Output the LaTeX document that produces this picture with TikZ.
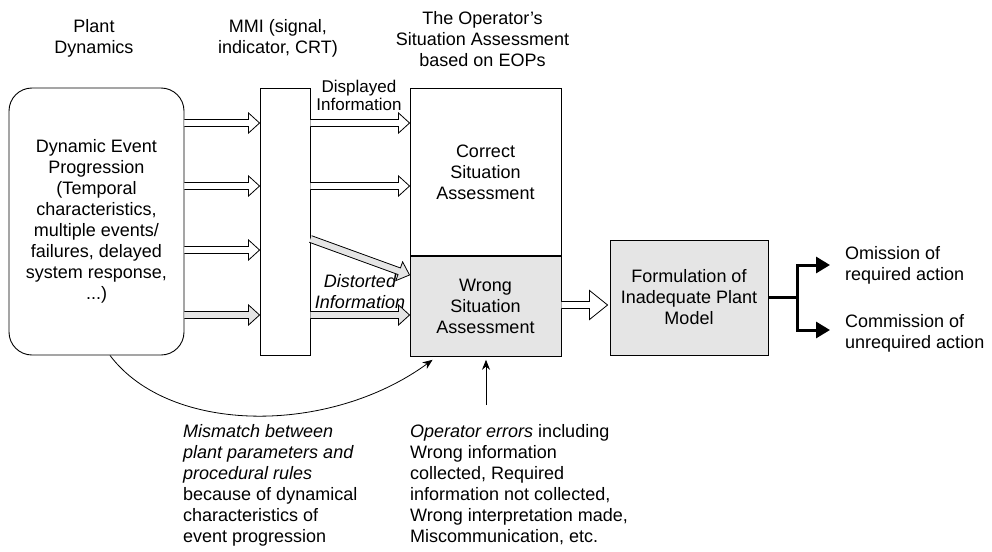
\documentclass[tikz,border=0pt]{standalone}
\usepackage{fontspec}
\setmainfont{Liberation Sans}
\usetikzlibrary{calc,arrows.meta}
\tikzset{
  every node/.style={font=\fontsize{18}{21}\selectfont, inner sep=0pt},
  box/.style={draw, line width=0.9pt, inner sep=0pt, align=center},
  grayfill/.style={fill=black!10},
  lbl/.style={align=center, anchor=north},
  note/.style={align=left, anchor=north west},
  thinarrow/.style={line width=0.8pt, -{Stealth[length=10pt,width=8pt]}},
  outarrow/.style={line width=3pt, -{Triangle[length=14pt,width=16pt]}},
}
% #1 fill, #2 head length, #3 head half width, #4 from, #5 to
\newcommand\hollowarrow[5]{%
  \coordinate (ha-H) at ($(#5)!#2!(#4)$);
  \draw[line width=0.8pt, fill=#1, line join=miter]
    ($(#4)!3.5pt!90:(#5)$) -- ($(ha-H)!3.5pt!90:(#5)$) -- ($(ha-H)!#3!90:(#5)$) -- (#5)
    -- ($(ha-H)!#3!-90:(#5)$) -- ($(ha-H)!3.5pt!-90:(#5)$) -- ($(#4)!3.5pt!-90:(#5)$);
}
\begin{document}
\begin{tikzpicture}[x=1pt,y=-1pt]
\useasboundingbox (0,0) rectangle (992,551);

% top labels
\node[lbl] (tplant) at (94,19) {Plant\\Dynamics};
\node[lbl] (tmmi) at (278,19) {MMI (signal,\\indicator, CRT)};
\node[lbl] (top) at (482.5,11) {The Operator’s\\Situation Assessment\\based on EOPs};

% boxes
\node[box, rounded corners=23pt, minimum width=175pt, minimum height=267pt] (plant) at (96.5,221.5)
  {Dynamic Event\\Progression\\(Temporal\\characteristics,\\multiple events/\\failures, delayed\\system response,\\...)};
\node[box, minimum width=50pt, minimum height=267pt] (mmi) at (285,221.5) {};
\node[box, minimum width=151pt, minimum height=167pt, anchor=north] (correct) at (485.5,88)
  {Correct\\Situation\\Assessment};
\node[box, grayfill, minimum width=151pt, minimum height=100pt, anchor=north] (wrong) at (correct.south)
  {Wrong\\Situation\\Assessment};
\node[box, grayfill, minimum width=158pt, minimum height=115pt] (form) at (689,297.5)
  {Formulation of\\Inadequate Plant\\Model};

% arrow labels
\node[lbl, font=\fontsize{17}{18}\selectfont] (disp) at (359,80) {Displayed\\Information};
\node[lbl, font=\fontsize{18}{21}\selectfont\itshape] (dist) at (360,274) {Distorted\\Information};

% levels
\path (0,123) coordinate (r1) (0,186) coordinate (r2) (0,250) coordinate (r3) (0,315) coordinate (r4)
      (0,239) coordinate (rs1) (0,275) coordinate (rs2) (0,305) coordinate (rw);

% plant -> mmi
\foreach \r/\f in {r1/white, r2/white, r3/white, r4/black!10} {
  \coordinate (ps) at (plant.east |- \r);
  \coordinate (pe) at (mmi.west |- \r);
  \hollowarrow{\f}{11pt}{10pt}{ps}{pe}
}
% mmi -> situation
\foreach \r in {r1, r2} {
  \coordinate (ms) at (mmi.east |- \r);
  \coordinate (me) at (correct.west |- \r);
  \hollowarrow{white}{11pt}{10pt}{ms}{me}
}
\coordinate (ms4) at (mmi.east |- r4);
\coordinate (me4) at (wrong.west |- r4);
\hollowarrow{black!10}{11pt}{10pt}{ms4}{me4}
\coordinate (msl) at (mmi.east |- rs1);
\coordinate (mel) at (wrong.west |- rs2);
\hollowarrow{black!10}{11pt}{10pt}{msl}{mel}

% wrong -> formulation
\coordinate (ws) at (wrong.east |- rw);
\coordinate (we) at ($(form.west |- rw)+(-2,0)$);
\hollowarrow{white}{18pt}{14.5pt}{ws}{we}

% outputs
\coordinate (jn) at ($(form.east)+(29,0)$);
\coordinate (om) at (830,265);
\coordinate (com) at (830,330);
\draw[line width=3pt] (form.east) -- (jn);
\draw[outarrow] (jn) |- (om);
\draw[outarrow] (jn) |- (com);
\node[note] (omt) at (845,246) {Omission of\\required action};
\node[note] (comt) at (845,314) {Commission of\\unrequired action};

% influences
\coordinate (cs) at ($(plant.south)+(13.5,0)$);
\coordinate (ce) at ($(wrong.south west)+(23,3)$);
\draw[thinarrow] (cs) .. controls (170,435) and (330,435) .. (ce);
\coordinate (opa) at (486,405);
\coordinate (opb) at ($(wrong.south)+(0.5,3)$);
\draw[thinarrow] (opa) -- (opb);

\node[note] (mis) at (183,424) {\textit{Mismatch between}\\\textit{plant parameters and}\\\textit{procedural rules}\\because of dynamical\\characteristics of\\event progression};
\node[note] (ope) at (410,424) {\textit{Operator errors} including\\Wrong information\\collected, Required\\information not collected,\\Wrong interpretation made,\\Miscommunication, etc.};
\end{tikzpicture}
\end{document}
